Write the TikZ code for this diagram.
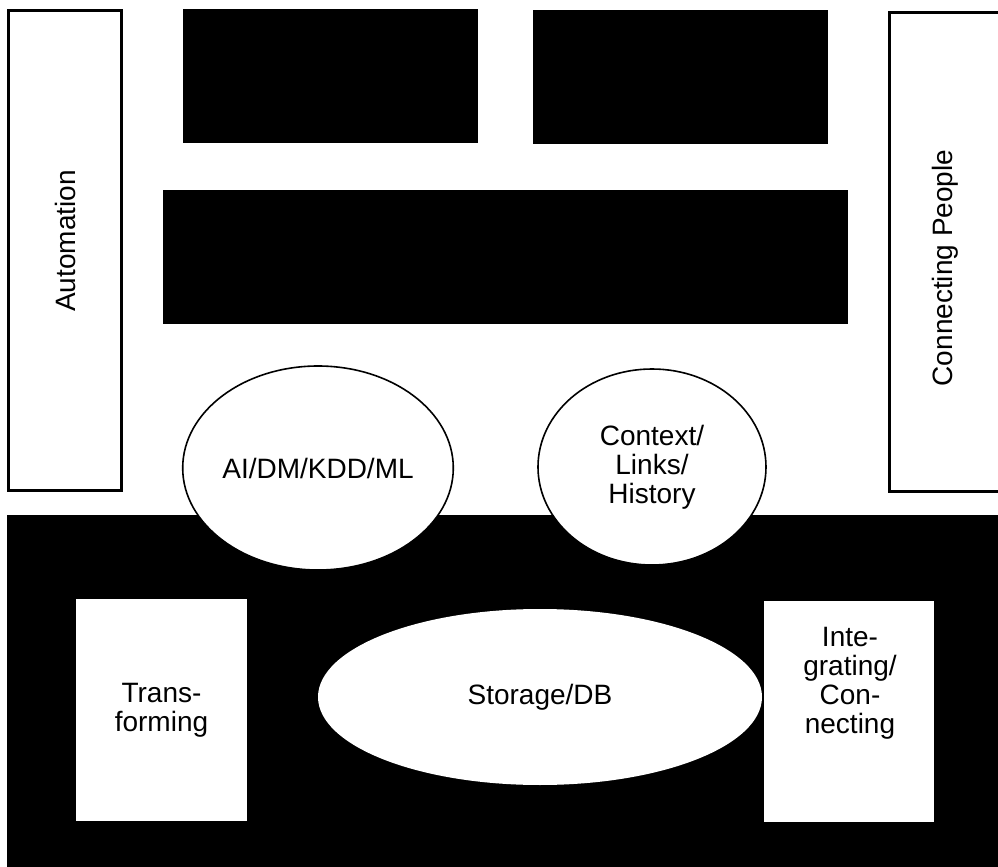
\documentclass[tikz,border=0pt]{standalone}
\usepackage{fontspec}
\setmainfont{Liberation Sans}
\usetikzlibrary{shapes.geometric}

\tikzset{
    txt/.style={font=\fontsize{14}{14.5}\selectfont, align=center, inner sep=0pt},
    framebox/.style={draw, line width=1.5pt, fill=white, inner sep=0pt},
    blackbox/.style={fill=black, draw=none, inner sep=0pt},
    whitebox/.style={txt, fill=white, draw=none},
    oval/.style={txt, ellipse, draw, line width=0.8pt, fill=white}
}

\begin{document}
\begin{tikzpicture}[x=0.5pt, y=-0.5pt]
    \useasboundingbox (0,0) rectangle (998,867);

    % side frames
    \node [framebox, minimum width=56.5pt, minimum height=240pt] (autobox) at (64.5,250) {};
    \node [framebox, minimum width=60.5pt, minimum height=239.5pt] (peoplebox) at (949.5,251.5) {};
    \node [txt, rotate=90] (automation) at (65,241) {Automation};
    \node [txt, rotate=90] (people) at (945,268) {Connecting People};

    % black blocks on top
    \node [blackbox, minimum width=147.5pt, minimum height=67pt] (topleft) at (330.5,76) {};
    \node [blackbox, minimum width=147.5pt, minimum height=67pt] (topright) at (680.5,77) {};
    \node [blackbox, minimum width=342.5pt, minimum height=67pt] (middle) at (505.5,257) {};

    % black base
    \node [blackbox, minimum width=501.5pt, minimum height=182.5pt] (base) at (508.5,697.5) {};

    % ovals
    \node [oval, minimum width=126pt, minimum height=102pt] (ai) at (318,468) {AI/DM/KDD/ML};
    \node [oval, minimum width=114pt, minimum height=98pt] (context) at (652,467) {Context/\\Links/\\History};

    % inside the base
    \node [whitebox, minimum width=85.5pt, minimum height=111pt] (transform) at (161.5,710) {Trans-\\forming};
    \node [whitebox, minimum width=85pt, minimum height=110.5pt] (integbox) at (849,711.5) {};
    \node [txt] (integrate) at (850,683) {Inte-\\grating/\\Con-\\necting};
    \node [oval, draw=none, minimum width=222pt, minimum height=88pt] (storage) at (540,697) {Storage/DB};
\end{tikzpicture}
\end{document}
